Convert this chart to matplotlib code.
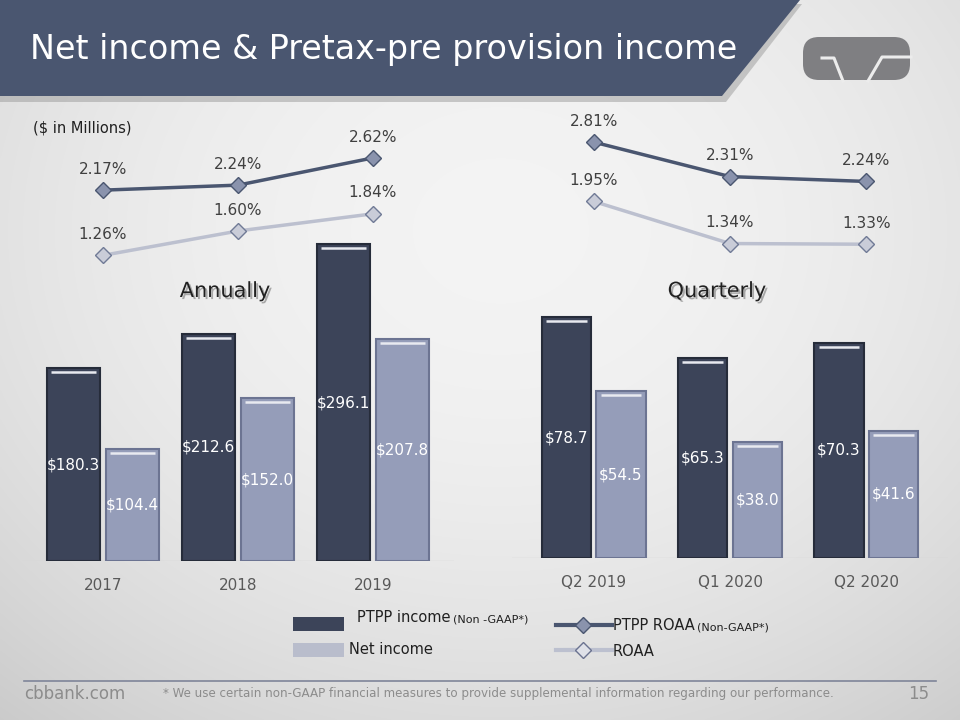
import numpy as np
import matplotlib.pyplot as plt
import matplotlib.patheffects as pe
from matplotlib.patches import Polygon, Rectangle, FancyBboxPatch

# ---- data ----
years = ["2017", "2018", "2019"]
ptpp_annual = [180.3, 212.6, 296.1]
net_annual = [104.4, 152.0, 207.8]
ptpp_roaa_annual = [2.17, 2.24, 2.62]
roaa_annual = [1.26, 1.60, 1.84]

quarters = ["Q2 2019", "Q1 2020", "Q2 2020"]
ptpp_q = [78.7, 65.3, 70.3]
net_q = [54.5, 38.0, 41.6]
ptpp_roaa_q = [2.81, 2.31, 2.24]
roaa_q = [1.95, 1.34, 1.33]

DARK = "#3c4459"
LIGHT = "#959db9"
LINE_D = "#4a5670"
LINE_L = "#bcc0cf"
TXT = "#404040"

W, H = 960, 720
fig = plt.figure(figsize=(9.6, 7.2), dpi=100)
plt.rcParams['font.family'] = ['DejaVu Sans']


def ax_px(left, top, right, bottom, **kw):
    return fig.add_axes([left / W, 1 - bottom / H, (right - left) / W, (bottom - top) / H], **kw)


# background gradient
bg = ax_px(0, 0, W, H, zorder=-10)
yy, xx = np.mgrid[0:H:2, 0:W:2]
r2 = ((xx - 500) / 750.0) ** 2 + ((yy - 230) / 620.0) ** 2
img = 0.955 - 0.15 * np.clip(r2, 0, 1.2)
bg.imshow(np.dstack([img, img, img]), extent=[0, W, H, 0], aspect="auto", interpolation="bilinear")
bg.set_xlim(0, W)
bg.set_ylim(H, 0)
bg.axis("off")

# title banner with shadow
bg.add_patch(Polygon([(0, 4), (802, 4), (726, 102), (0, 102)], closed=True,
                     fc="#9a9a9a", ec="none", alpha=0.5, zorder=1))
bg.add_patch(Polygon([(0, 0), (800, 0), (722, 96), (0, 96)], closed=True,
                     fc="#4a5670", ec="none", zorder=2))
bg.text(30, 50, "Net income & Pretax-pre provision income", color="white",
        fontsize=24, va="center", ha="left", zorder=3)

# simple logo
logo = "#7f7f82"
bg.add_patch(FancyBboxPatch((803, 37), 107, 43, boxstyle="round,pad=0,rounding_size=16",
                            fc=logo, ec="none", zorder=3))
bg.plot([822, 834, 843], [58, 58, 81], color="#ececec", lw=2.2, zorder=4)
bg.plot([868, 882, 911], [81, 57, 57], color="#ececec", lw=2.2, zorder=4)

# footer
bg.plot([24, 936], [681, 681], color="#7f8599", lw=1.2)
bg.text(24, 694, "cbbank.com", color="#8c8c8c", fontsize=12, va="center")
bg.text(163, 694, "* We use certain non-GAAP financial measures to provide supplemental information regarding our performance.",
        color="#8c8c8c", fontsize=8.6, va="center")
bg.text(908, 694, "15", color="#8c8c8c", fontsize=12, va="center")

bg.text(33, 128, "($ in Millions)", color="#202020", fontsize=10.5, va="center")

# legend
bg.add_patch(Rectangle((293, 617), 51, 14, fc=DARK, ec="none"))
bg.add_patch(Rectangle((293, 643), 51, 14, fc="#b9bdcc", ec="none"))
bg.text(357, 618, "PTPP income", color="#202020", fontsize=10.5, va="center")
bg.text(453, 619, "(Non -GAAP*)", color="#202020", fontsize=8, va="center")
bg.text(349, 650, "Net income", color="#202020", fontsize=10.5, va="center")
bg.plot([556, 583, 612], [625, 625, 625], color=LINE_D, lw=3, marker="D", markevery=[1],
        markersize=8, markerfacecolor="#8a93ad", markeredgecolor=LINE_D)
bg.plot([556, 583, 612], [650, 650, 650], color=LINE_L, lw=3, marker="D", markevery=[1],
        markersize=8, markerfacecolor="#dfe1e8", markeredgecolor="#6b7390")
bg.text(613, 626, "PTPP ROAA", color="#202020", fontsize=10.5, va="center")
bg.text(697, 627, "(Non-GAAP*)", color="#202020", fontsize=8, va="center")
bg.text(613, 651, "ROAA", color="#202020", fontsize=10.5, va="center")


def bar_panel(box, labels, dark, light, scale, off, width, title, title_xy):
    left, right, base = box
    x = np.arange(len(labels))
    top = base - 330
    ax = ax_px(left, top, right, base)
    ymax = 330 / scale
    ax.set_xlim(-0.6, len(labels) - 0.4)
    ax.set_ylim(0, ymax)
    hl = 4 / scale
    for xs, vals, col, edge in [(x - off, dark, DARK, "#262c3a"), (x + off, light, LIGHT, "#6c7492")]:
        ax.bar(xs, vals, width, color=col, edgecolor=edge, linewidth=1.5, zorder=2)
        ax.hlines([v - hl for v in vals], xs - width / 2 + 0.03, xs + width / 2 - 0.03,
                  color="#e8eaf0", lw=1.8, zorder=3)
        for xi, v in zip(xs, vals):
            ax.text(xi, v / 2, f"${v:.1f}", color="white", fontsize=11,
                    ha="center", va="center", zorder=4)
    ax.axhline(0, color="#d4d4d4", lw=1, zorder=1)
    ax.set_xticks(x)
    ax.set_xticklabels(labels, fontsize=11, color="#595959")
    ax.tick_params(length=0, pad=12)
    ax.set_yticks([])
    for s in ax.spines.values():
        s.set_visible(False)
    ax.patch.set_alpha(0)
    bg.text(title_xy[0], title_xy[1], title, fontsize=15, color="#202020", ha="center", va="center",
            path_effects=[pe.withSimplePatchShadow(offset=(1.5, -1.5), shadow_rgbFace="#8a8a8a", alpha=0.7)])


def line_panel(left, right, top, bottom, ylim, labels, d, l):
    ax = ax_px(left, top, right, bottom)
    x = np.arange(len(labels))
    ax.set_xlim(-0.6, len(labels) - 0.4)
    ax.set_ylim(*ylim)
    ax.plot(x, d, color=LINE_D, lw=2.5, marker="D", markersize=8,
            markerfacecolor="#8a93ad", markeredgecolor=LINE_D, zorder=3)
    ax.plot(x, l, color=LINE_L, lw=2.5, marker="D", markersize=8,
            markerfacecolor="#c9ccd8", markeredgecolor="#707a96", zorder=2)
    for xi, v in zip(x, d):
        ax.annotate(f"{v:.2f}%", (xi, v), xytext=(0, 15), textcoords="offset points",
                    ha="center", va="center", fontsize=11, color=TXT)
    for xi, v in zip(x, l):
        ax.annotate(f"{v:.2f}%", (xi, v), xytext=(0, 15), textcoords="offset points",
                    ha="center", va="center", fontsize=11, color=TXT)
    ax.axis("off")


# annual panel: centers at 103, 238, 373 px
bar_panel((22, 454, 561), years, ptpp_annual, net_annual, 1.07, 0.22, 0.39, "Annually", (225, 291))
line_panel(22, 454, 145, 274, (1.0, 2.8), years, ptpp_roaa_annual, roaa_annual)

# quarterly panel: centers at 594, 730, 866 px
bar_panel((512, 948, 558), quarters, ptpp_q, net_q, 3.06, 0.2, 0.36, "Quarterly", (717, 291))
line_panel(512, 948, 129, 267, (1.0, 3.0), quarters, ptpp_roaa_q, roaa_q)

fig.savefig("out.png", dpi=100)
